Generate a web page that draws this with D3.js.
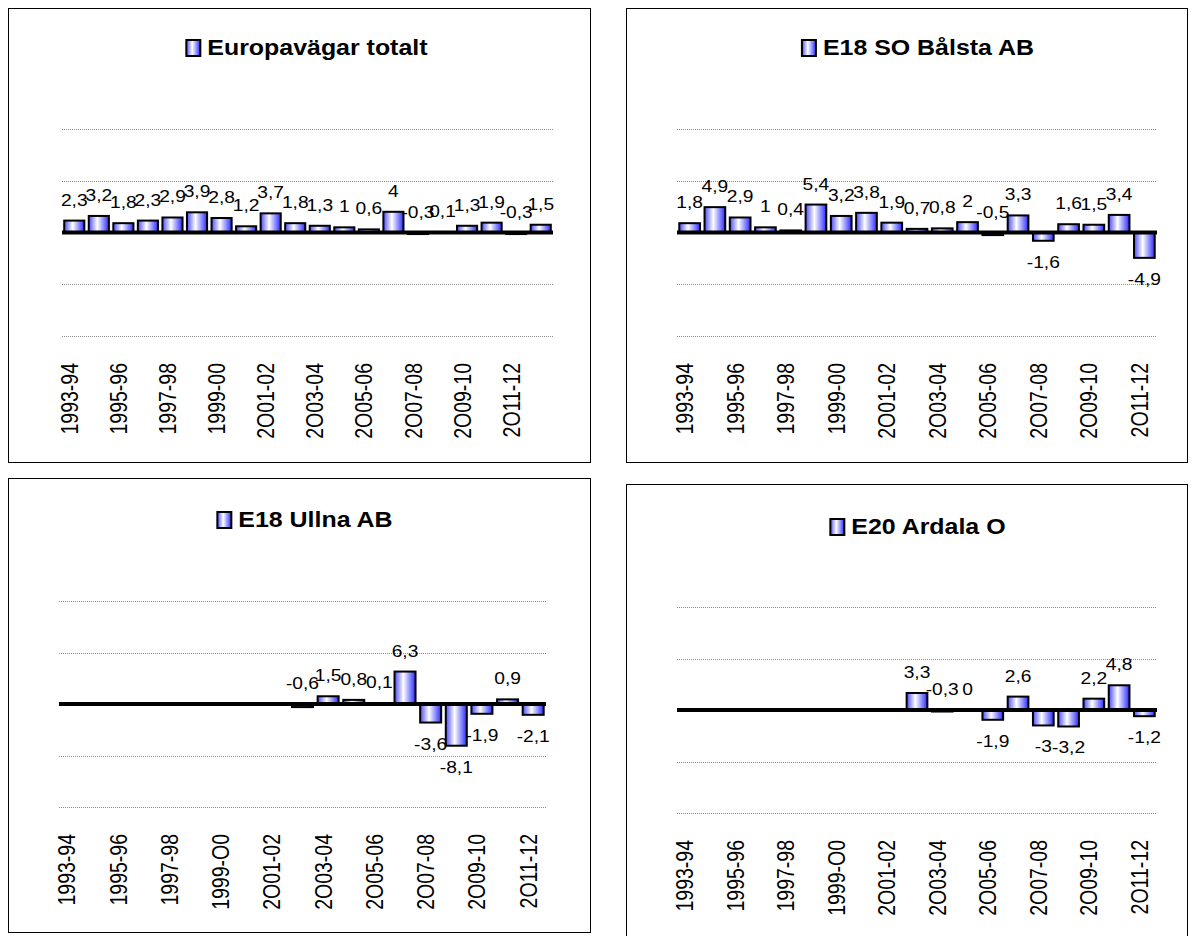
<!DOCTYPE html>
<html>
<head>
<meta charset="utf-8">
<script src="https://cdn.jsdelivr.net/npm/d3@7"></script>
<style>
  body { margin: 0; background: #fff; }
  text { font-family: "Liberation Sans", Arial, sans-serif; fill: #000; }
</style>
</head>
<body>
<div id="chart"></div>
<script>
const WIDTH = 1195;
const HEIGHT = 936;

// categories (season pairs)
const categories = ["1993-94", "1994-95", "1995-96", "1996-97", "1997-98", "1998-99", "1999-00",
  "2000-01", "2001-02", "2002-03", "2003-04", "2004-05", "2005-06", "2006-07", "2007-08",
  "2008-09", "2009-10", "2010-11", "2011-12", "2012-13"];

// axis label texts as printed in the original (every other category)
const tickLabelsTop = ["1993-94", "1995-96", "1997-98", "1999-00", "2O01-02", "2O03-04",
  "2O05-06", "2O07-08", "2O09-10", "2O11-12"];
const tickLabelsBottom = ["1993-94", "1995-96", "1997-98", "1999-O0", "2O01-02", "2O03-04",
  "2O05-06", "2O07-08", "2O09-10", "2O11-12"];

// series values (% change)
const europavagarTotalt = [2.3, 3.2, 1.8, 2.3, 2.9, 3.9, 2.8, 1.2, 3.7, 1.8, 1.3, 1, 0.6, 4, -0.3, 0.1, 1.3, 1.9, -0.3, 1.5];
const e18SoBalsta = [1.8, 4.9, 2.9, 1, 0.4, 5.4, 3.2, 3.8, 1.9, 0.7, 0.8, 2, -0.5, 3.3, -1.6, 1.6, 1.5, 3.4, -4.9];
const e18Ullna = [null, null, null, null, null, null, null, null, null, -0.6, 1.5, 0.8, 0.1, 6.3, -3.6, -8.1, -1.9, 0.9, -2.1];
const e20Ardala = [null, null, null, null, null, null, null, null, null, 3.3, -0.3, 0, -1.9, 2.6, -3, -3.2, 2.2, 4.8, -1.2];

const SX = 1.2;        // horizontal stretch seen on all the text
const TITLE_SX = 1.16;

const svg = d3.select("#chart").append("svg")
    .attr("width", WIDTH)
    .attr("height", HEIGHT);

const grad = svg.append("defs").append("linearGradient")
    .attr("id", "barFill")
    .attr("x1", "0").attr("x2", "1").attr("y1", "0").attr("y2", "0");
grad.append("stop").attr("offset", "0").attr("stop-color", "#4a4aff");
grad.append("stop").attr("offset", "0.42").attr("stop-color", "#ffffff");
grad.append("stop").attr("offset", "1").attr("stop-color", "#2a2aff");

const panels = [
  {title: "Europavägar totalt", values: europavagarTotalt, ticks: tickLabelsTop,
   box: [8, 8, 590, 462], plot: [62, 553, 129, 336], titleX: 307, titleY: 55, tickY: 363},
  {title: "E18 SO Bålsta AB", values: e18SoBalsta, ticks: tickLabelsTop,
   box: [626, 8, 1187, 462], plot: [677, 1157, 129, 336], titleX: 918, titleY: 55, tickY: 363},
  {title: "E18 Ullna AB", values: e18Ullna, ticks: tickLabelsBottom,
   box: [8, 478, 590, 932], plot: [59, 546, 601, 807], titleX: 305, titleY: 527, tickY: 834},
  {title: "E20 Ardala O", values: e20Ardala, ticks: tickLabelsBottom,
   box: [626, 484, 1187, 945], plot: [677, 1157, 607, 813], titleX: 918, titleY: 534, tickY: 840}
];

const fmt = (v) => String(v).replace(".", ",");

function drawPanel(p) {
  const g = svg.append("g");

  g.append("rect")
      .attr("x", p.box[0] + 0.5).attr("y", p.box[1] + 0.5)
      .attr("width", p.box[2] - p.box[0]).attr("height", p.box[3] - p.box[1])
      .attr("fill", "none").attr("stroke", "#000").attr("stroke-width", 1);

  const cats = categories.slice(0, p.values.length);
  const data = p.values.map((v, i) => ({cat: cats[i], value: v}));

  const X_SCALE = d3.scaleBand()
      .domain(cats)
      .range([p.plot[0], p.plot[1]])
      .paddingInner(0.18)
      .paddingOuter(0.09);

  const Y_SCALE = d3.scaleLinear()
      .domain([-20, 20])
      .range([p.plot[3], p.plot[2]]);

  // dotted gridlines
  g.selectAll(".grid")
      .data([-20, -10, 10, 20])
      .enter()
      .append("line")
        .attr("x1", p.plot[0]).attr("x2", p.plot[1])
        .attr("y1", (d) => Math.round(Y_SCALE(d)) + 0.5)
        .attr("y2", (d) => Math.round(Y_SCALE(d)) + 0.5)
        .attr("stroke", "#8a8a8a")
        .attr("stroke-width", 1)
        .attr("stroke-dasharray", "1,1");

  const present = data.filter((d) => d.value !== null);

  g.selectAll(".bar")
      .data(present)
      .enter()
      .append("rect")
        .attr("x", (d) => X_SCALE(d.cat))
        .attr("y", (d) => Y_SCALE(Math.max(0, d.value)))
        .attr("width", X_SCALE.bandwidth())
        .attr("height", (d) => Math.abs(Y_SCALE(d.value) - Y_SCALE(0)))
        .attr("fill", "url(#barFill)")
        .attr("stroke", "#000")
        .attr("stroke-width", 2);

  // zero line
  g.append("line")
      .attr("x1", p.plot[0]).attr("x2", p.plot[1])
      .attr("y1", Y_SCALE(0)).attr("y2", Y_SCALE(0))
      .attr("stroke", "#000").attr("stroke-width", 4);

  // value labels
  g.selectAll(".val")
      .data(present)
      .enter()
      .append("text")
        .attr("text-anchor", "middle")
        .style("font-size", "16px")
        .attr("transform", (d) => {
          const cx = X_SCALE(d.cat) + X_SCALE.bandwidth() / 2;
          const by = d.value > -1 ? Y_SCALE(Math.max(0, d.value)) - 15 : Y_SCALE(d.value) + 27;
          return `translate(${cx},${by}) scale(${SX},1)`;
        })
        .text((d) => fmt(d.value));

  // category axis
  const axis = d3.axisBottom(X_SCALE)
      .tickValues(cats.filter((d, i) => i % 2 === 0))
      .tickFormat((d, i) => p.ticks[i])
      .tickSize(0);
  const ag = g.append("g")
      .attr("transform", `translate(0,${p.tickY})`)
      .call(axis);
  ag.select(".domain").remove();
  ag.selectAll("text")
      .attr("x", 0).attr("y", 0)
      .attr("dy", "0.35em")
      .attr("text-anchor", "end")
      .attr("fill", "#000")
      .style("font-size", "19.5px")
      .attr("transform", `translate(-5,0) scale(1.25,1) rotate(-90)`);

  // title with legend swatch
  const tg = g.append("g").attr("transform", `translate(${p.titleX},${p.titleY})`);
  const tt = tg.append("text")
      .style("font-size", "21.5px")
      .style("font-weight", "bold")
      .text(p.title);
  const tw = tt.node().getComputedTextLength() * TITLE_SX;
  const sw = 14, gap = 7;
  const start = -(sw + gap + tw) / 2;
  tg.append("rect")
      .attr("x", start).attr("y", -15)
      .attr("width", sw).attr("height", 16)
      .attr("fill", "url(#barFill)")
      .attr("stroke", "#000").attr("stroke-width", 2);
  tt.attr("transform", `translate(${start + sw + gap},0) scale(${TITLE_SX},1)`);
}

panels.forEach(drawPanel);
</script>
</body>
</html>
